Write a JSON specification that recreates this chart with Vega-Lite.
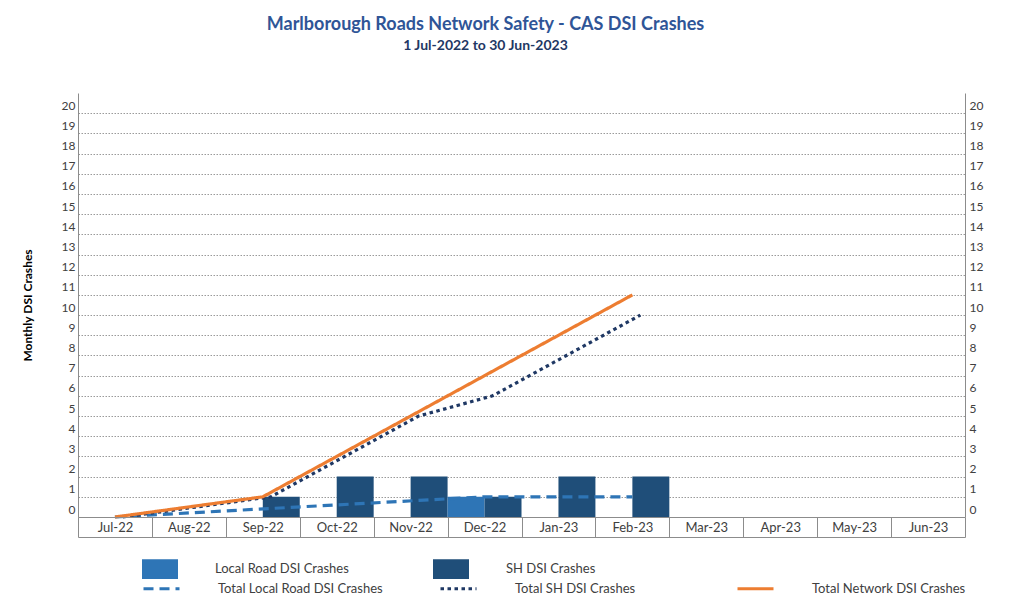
{
  "$schema": "https://vega.github.io/schema/vega-lite/v6.json",
  "width": 887,
  "height": 424,
  "autosize": {"type": "none"},
  "padding": {"left": 78, "top": 93, "right": 54, "bottom": 97},
  "background": "white",
  "config": {"font": "Lato", "view": {"stroke": null}},
  "title": {
    "text": "Marlborough Roads Network Safety - CAS DSI Crashes",
    "subtitle": "1 Jul-2022 to 30 Jun-2023",
    "font": "Lato",
    "fontSize": 18,
    "fontWeight": "bold",
    "color": "#2F5597",
    "subtitleFont": "Lato",
    "subtitleFontSize": 14,
    "subtitleFontWeight": "bold",
    "subtitleColor": "#1F3864",
    "subtitlePadding": 5,
    "anchor": "middle",
    "dx": -36,
    "offset": 40
  },
  "datasets": {
    "monthly": [
      {"month": "Sep-22", "series": "SH DSI Crashes", "crashes": 1},
      {"month": "Oct-22", "series": "SH DSI Crashes", "crashes": 2},
      {"month": "Nov-22", "series": "SH DSI Crashes", "crashes": 2},
      {"month": "Dec-22", "series": "Local Road DSI Crashes", "crashes": 1},
      {"month": "Dec-22", "series": "SH DSI Crashes", "crashes": 1},
      {"month": "Jan-23", "series": "SH DSI Crashes", "crashes": 2},
      {"month": "Feb-23", "series": "SH DSI Crashes", "crashes": 2}
    ],
    "cumulative": [
      {"month": "Jul-22", "idx": 1, "series": "Total Local Road DSI Crashes", "total": 0},
      {"month": "Dec-22", "idx": 6, "series": "Total Local Road DSI Crashes", "total": 1},
      {"month": "Jan-23", "idx": 7, "series": "Total Local Road DSI Crashes", "total": 1},
      {"month": "Feb-23", "idx": 8, "series": "Total Local Road DSI Crashes", "total": 1},
      {"month": "Jul-22", "idx": 1, "series": "Total SH DSI Crashes", "total": 0},
      {"month": "Sep-22", "idx": 3, "series": "Total SH DSI Crashes", "total": 1},
      {"month": "Oct-22", "idx": 4, "series": "Total SH DSI Crashes", "total": 3},
      {"month": "Nov-22", "idx": 5, "series": "Total SH DSI Crashes", "total": 5},
      {"month": "Dec-22", "idx": 6, "series": "Total SH DSI Crashes", "total": 6},
      {"month": "Jan-23", "idx": 7, "series": "Total SH DSI Crashes", "total": 8},
      {"month": "Feb-23", "idx": 8, "series": "Total SH DSI Crashes", "total": 10},
      {"month": "Jul-22", "idx": 1, "series": "Total Network DSI Crashes", "total": 0},
      {"month": "Sep-22", "idx": 3, "series": "Total Network DSI Crashes", "total": 1},
      {"month": "Oct-22", "idx": 4, "series": "Total Network DSI Crashes", "total": 3},
      {"month": "Nov-22", "idx": 5, "series": "Total Network DSI Crashes", "total": 5},
      {"month": "Dec-22", "idx": 6, "series": "Total Network DSI Crashes", "total": 7},
      {"month": "Jan-23", "idx": 7, "series": "Total Network DSI Crashes", "total": 9},
      {"month": "Feb-23", "idx": 8, "series": "Total Network DSI Crashes", "total": 11}
    ]
  },
  "layer": [
    {
      "data": {"name": "monthly"},
      "mark": {"type": "bar"},
      "encoding": {
        "x": {
          "field": "month",
          "type": "nominal",
          "sort": null,
          "scale": {
            "domain": ["Jul-22", "Aug-22", "Sep-22", "Oct-22", "Nov-22", "Dec-22", "Jan-23", "Feb-23", "Mar-23", "Apr-23", "May-23", "Jun-23"],
            "paddingInner": 0,
            "paddingOuter": 0
          },
          "axis": {
            "orient": "bottom",
            "title": null,
            "domain": true,
            "domainColor": "#8c8c8c",
            "ticks": true,
            "tickBand": "extent",
            "tickSize": 20,
            "tickColor": "#8c8c8c",
            "labelPadding": -16,
            "labelAngle": 0,
            "labelFontSize": 13,
            "labelColor": "#404040",
            "grid": false,
            "zindex": 1
          }
        },
        "xOffset": {
          "field": "series",
          "type": "nominal",
          "scale": {"domain": ["Local Road DSI Crashes", "SH DSI Crashes"], "paddingInner": 0, "paddingOuter": 0}
        },
        "y": {
          "field": "crashes",
          "type": "quantitative",
          "scale": {"domain": [0, 21], "nice": false, "zero": true},
          "axis": {
            "orient": "left",
            "title": "Monthly DSI Crashes",
            "titleFontSize": 12,
            "titleFontWeight": "bold",
            "titleColor": "#000000",
            "titleX": -51,
            "titleY": 212,
            "titleBaseline": "middle",
            "values": [0, 1, 2, 3, 4, 5, 6, 7, 8, 9, 10, 11, 12, 13, 14, 15, 16, 17, 18, 19, 20],
            "grid": true,
            "gridColor": "#9a9a9a",
            "gridDash": [1.5, 1.5],
            "gridWidth": 1,
            "domain": true,
            "domainColor": "#8c8c8c",
            "ticks": false,
            "labelPadding": 3,
            "labelOffset": -8,
            "labelFontSize": 12,
            "labelColor": "#404040"
          }
        },
        "fill": {
          "field": "series",
          "type": "nominal",
          "scale": {"domain": ["Local Road DSI Crashes", "SH DSI Crashes"], "range": ["#2E75B6", "#1F4E79"]},
          "legend": {
            "title": null,
            "orient": "none",
            "legendX": 64,
            "legendY": 458,
            "direction": "horizontal",
            "columns": 2,
            "gridAlign": "all",
            "columnPadding": 84,
            "symbolType": "M-1,-0.55H1V0.55H-1Z",
            "symbolSize": 1296,
            "symbolStrokeWidth": 0,
            "labelOffset": 37,
            "labelLimit": 300,
            "labelFontSize": 13,
            "labelColor": "#404040"
          }
        }
      }
    },
    {
      "data": {"name": "cumulative"},
      "mark": {"type": "line", "strokeWidth": 3.2, "xOffset": {"expr": "datum.series == 'Total SH DSI Crashes' ? 8 : 0"}},
      "encoding": {
        "x": {
          "field": "month",
          "type": "nominal",
          "sort": null,
          "axis": {
            "orient": "bottom",
            "title": null,
            "offset": 20,
            "domain": true,
            "domainColor": "#8c8c8c",
            "ticks": false,
            "labels": false,
            "grid": false
          }
        },
        "y": {
          "field": "total",
          "type": "quantitative",
          "axis": {
            "orient": "right",
            "title": null,
            "values": [0, 1, 2, 3, 4, 5, 6, 7, 8, 9, 10, 11, 12, 13, 14, 15, 16, 17, 18, 19, 20],
            "grid": false,
            "domain": true,
            "domainColor": "#8c8c8c",
            "ticks": false,
            "labelPadding": 4,
            "labelOffset": -8,
            "labelFontSize": 12,
            "labelColor": "#404040"
          }
        },
        "order": {"field": "idx", "type": "quantitative"},
        "stroke": {
          "field": "series",
          "type": "nominal",
          "scale": {
            "domain": ["Total Local Road DSI Crashes", "Total SH DSI Crashes", "Total Network DSI Crashes"],
            "range": ["#2E75B6", "#1F3864", "#ED7D31"]
          },
          "legend": {
            "title": null,
            "orient": "none",
            "legendX": 64,
            "legendY": 476,
            "direction": "horizontal",
            "columns": 3,
            "gridAlign": "all",
            "columnPadding": 51,
            "symbolType": "stroke",
            "symbolSize": 1296,
            "symbolStrokeWidth": 3,
            "labelOffset": 37,
            "labelLimit": 300,
            "labelFontSize": 13,
            "labelColor": "#404040"
          }
        },
        "strokeDash": {
          "field": "series",
          "type": "nominal",
          "scale": {
            "domain": ["Total Local Road DSI Crashes", "Total SH DSI Crashes", "Total Network DSI Crashes"],
            "range": [[10, 6], [3.5, 3.5], [1, 0]]
          },
          "legend": {
            "title": null,
            "orient": "none",
            "legendX": 64,
            "legendY": 476,
            "direction": "horizontal",
            "columns": 3,
            "gridAlign": "all",
            "columnPadding": 51,
            "symbolType": "stroke",
            "symbolSize": 1296,
            "symbolStrokeWidth": 3,
            "labelOffset": 37,
            "labelLimit": 300,
            "labelFontSize": 13,
            "labelColor": "#404040"
          }
        }
      }
    }
  ],
  "resolve": {"axis": {"x": "independent", "y": "independent"}}
}
